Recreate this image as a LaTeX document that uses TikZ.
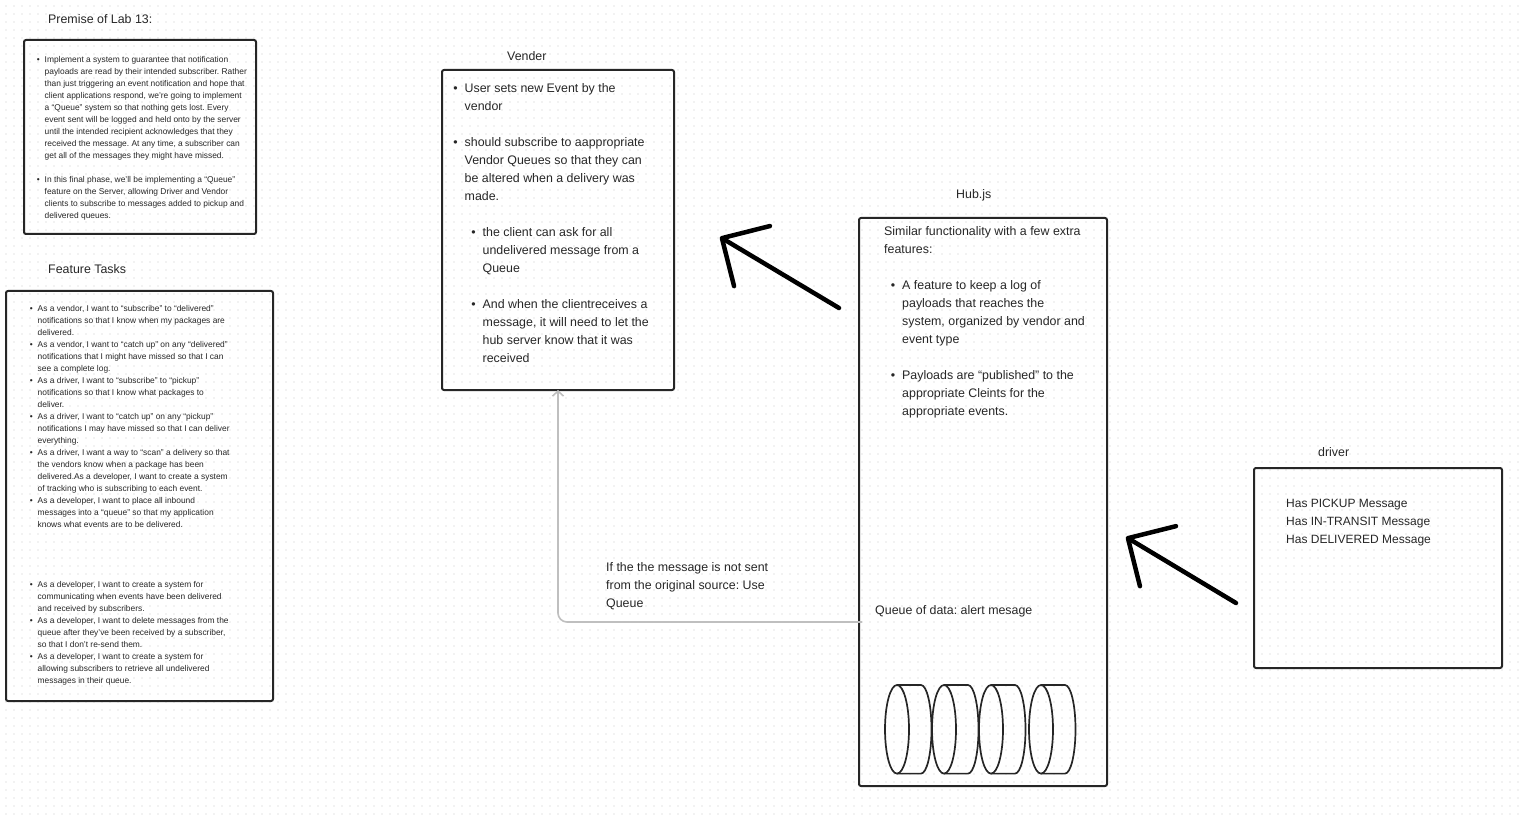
\documentclass[tikz,border=0pt]{standalone}
\usepackage{fontspec}
\setmainfont{Liberation Sans}
\usetikzlibrary{arrows.meta}

\tikzset{
	card/.style = {draw = black!85, line width = 2, rounded corners = 2, anchor = north west, inner sep = 0, outer sep = 0},
	bigtext/.style = {anchor = north west, inner sep = 0, align = left, text = black!85, font = \fontsize{12.4}{18}\selectfont\frenchspacing},
	smalltext/.style = {anchor = north west, inner sep = 0, align = left, text = black!85, font = \fontsize{8.4}{12}\selectfont\frenchspacing},
	bigarrow/.style = {-{Straight Barb[length = 35, width = 70, round]}, line width = 4.5, line cap = round, black},
	thinarrow/.style = {-{Straight Barb[length = 5, width = 11]}, line width = 1.6, black!25, rounded corners = 9},
	disk/.style = {line width = 1.7, black!85}
}
\newcommand{\blt}[1][5]{\leavevmode\llap{\textbullet\hspace{#1pt}}\ignorespaces}

\begin{document}
\begin{tikzpicture}[x = 1pt, y = -1pt]
\useasboundingbox (0, 0) rectangle (1520, 818);

% Dotted canvas

\foreach \row in {5.7, 13.7, ..., 815}
	\draw [black!5, line width = 1.8, dash pattern = on 1.8pt off 6.2pt] (4.8, \row) -- (1520, \row);

% Premise

\node [bigtext] (premiseTitle) at (48, 14) {Premise of Lab 13:};
\node [card, minimum width = 232, minimum height = 194] (premise) at (24, 40) {};
\node [smalltext] (premiseText) at (44.5, 56) {
	\blt Implement a system to guarantee that notification\\
	payloads are read by their intended subscriber. Rather\\
	than just triggering an event notification and hope that\\
	client applications respond, we're going to implement\\
	a ``Queue'' system so that nothing gets lost. Every\\
	event sent will be logged and held onto by the server\\
	until the intended recipient acknowledges that they\\
	received the message. At any time, a subscriber can\\
	get all of the messages they might have missed.\\[12pt]
	\blt In this final phase, we'll be implementing a ``Queue''\\
	feature on the Server, allowing Driver and Vendor\\
	clients to subscribe to messages added to pickup and\\
	delivered queues.};

% Feature tasks

\node [bigtext] (tasksTitle) at (48, 264) {Feature Tasks};
\node [card, minimum width = 267, minimum height = 410] (tasks) at (6, 291) {};
\node [smalltext] (tasksText) at (37.5, 305) {
	\blt As a vendor, I want to ``subscribe'' to ``delivered''\\
	notifications so that I know when my packages are\\
	delivered.\\
	\blt As a vendor, I want to ``catch up'' on any ``delivered''\\
	notifications that I might have missed so that I can\\
	see a complete log.\\
	\blt As a driver, I want to ``subscribe'' to ``pickup''\\
	notifications so that I know what packages to\\
	deliver.\\
	\blt As a driver, I want to ``catch up'' on any ``pickup''\\
	notifications I may have missed so that I can deliver\\
	everything.\\
	\blt As a driver, I want a way to ``scan'' a delivery so that\\
	the vendors know when a package has been\\
	delivered.As a developer, I want to create a system\\
	of tracking who is subscribing to each event.\\
	\blt As a developer, I want to place all inbound\\
	messages into a ``queue'' so that my application\\
	knows what events are to be delivered.\\[48pt]
	\blt As a developer, I want to create a system for\\
	communicating when events have been delivered\\
	and received by subscribers.\\
	\blt As a developer, I want to delete messages from the\\
	queue after they've been received by a subscriber,\\
	so that I don't re-send them.\\
	\blt As a developer, I want to create a system for\\
	allowing subscribers to retrieve all undelivered\\
	messages in their queue.};

% Vender

\node [bigtext] (venderTitle) at (507, 51) {Vender};
\node [card, minimum width = 232, minimum height = 320] (vender) at (442, 70) {};
\node [bigtext] (venderText) at (464.5, 83) {
	\blt[7] User sets new Event by the\\
	vendor\\[18pt]
	\blt[7] should subscribe to aappropriate\\
	Vendor Queues so that they can\\
	be altered when a delivery was\\
	made.\\[18pt]
	\hspace{18pt}\blt[7] the client can ask for all\\
	\hspace{18pt}undelivered message from a\\
	\hspace{18pt}Queue\\[18pt]
	\hspace{18pt}\blt[7] And when the clientreceives a\\
	\hspace{18pt}message, it will need to let the\\
	\hspace{18pt}hub server know that it was\\
	\hspace{18pt}received};

% Hub

\node [bigtext] (hubTitle) at (956, 189) {Hub.js};
\node [card, minimum width = 248, minimum height = 568] (hub) at (859, 218) {};
\node [bigtext] (hubText) at (884, 226) {
	Similar functionality with a few extra\\
	features:\\[18pt]
	\hspace{18pt}\blt[7] A feature to keep a log of\\
	\hspace{18pt}payloads that reaches the\\
	\hspace{18pt}system, organized by vendor and\\
	\hspace{18pt}event type\\[18pt]
	\hspace{18pt}\blt[7] Payloads are ``published'' to the\\
	\hspace{18pt}appropriate Cleints for the\\
	\hspace{18pt}appropriate events.};
\node [bigtext] (queueLabel) at (875, 605) {Queue of data: alert mesage};

% Queue disks

\foreach \x in {885, 932, 979, 1029} {
	\draw [disk] (\x + 12, 729.3) ellipse [x radius = 12, y radius = 44.3];
	\draw [disk] (\x + 12, 685) -- (\x + 36, 685) arc [start angle = -90, end angle = 90, x radius = 10.5, y radius = 44.3] -- (\x + 12, 773.6);
}

% Driver

\node [bigtext] (driverTitle) at (1318, 447) {driver};
\node [card, minimum width = 248, minimum height = 200] (driver) at (1254, 468) {};
\node [bigtext, font = \fontsize{12}{18}\selectfont] (driverText) at (1286, 499) {
	Has PICKUP Message\\
	Has IN-TRANSIT Message\\
	Has DELIVERED Message};

% Connectors

\node [bigtext] (retryLabel) at (606, 562) {
	If the the message is not sent\\
	from the original source: Use\\
	Queue};

\coordinate (hubOut) at (839, 308);
\coordinate (hubTip) at (720, 237);
\coordinate (driverOut) at (1236, 603);
\coordinate (driverTip) at (1126, 537);
\coordinate (queueOut) at (862, 622);

\draw [bigarrow] (hubOut) -- (hubTip);
\draw [bigarrow] (driverOut) -- (driverTip);
\draw [thinarrow] (queueOut) -| (vender.south);

\end{tikzpicture}
\end{document}
